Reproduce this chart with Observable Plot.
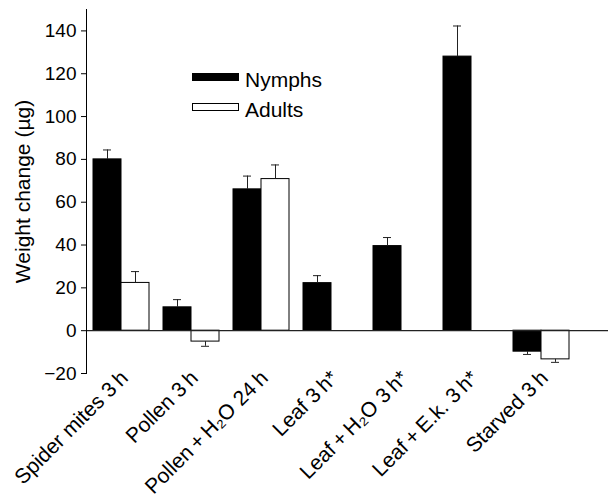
<!DOCTYPE html>
<html><head><meta charset="utf-8">
<script src="https://cdn.jsdelivr.net/npm/d3@7"></script>
<script src="https://cdn.jsdelivr.net/npm/@observablehq/plot@0.6"></script>
<style>
body{margin:0;background:#fff;}
#wrap{position:relative;width:608px;height:498px;font-family:"Liberation Sans",Arial,sans-serif;color:#000;}
.sw{position:absolute;box-sizing:border-box;border:1px solid #000;}
.lt{position:absolute;font-size:21px;line-height:21px;white-space:nowrap;}
</style></head><body><div id="wrap"></div>
<script>
const categories = ["Spider mites 3\u2009h","Pollen 3\u2009h","Pollen\u2009+\u2009H\u2082O 24\u2009h","Leaf 3\u2009h*","Leaf\u2009+\u2009H\u2082O 3\u2009h*","Leaf\u2009+\u2009E.k. 3\u2009h*","Starved 3\u2009h"];
const series = ["Nymphs","Adults"];
const nymphs   = [80, 10.9, 66, 22.2, 39.5, 128, -9.8];
const nymphErr = [4.4, 3.6, 6.2, 3.5, 4.0, 14.3, 1.3];
const adults   = [22.3, -5.1, 70.8, null, null, null, -13.4];
const adultErr = [5.3, 2.2, 6.6, null, null, null, 1.4];
const yTicks = [-20, 0, 20, 40, 60, 80, 100, 120, 140];
const yLabel = "Weight change (\u00b5g)";

function build(vals, errs, s) {
  const out = [];
  categories.forEach((c, i) => {
    const v = vals[i];
    if (v == null) return;
    out.push({cat: c, series: s, value: v, tip: v + Math.sign(v) * errs[i]});
  });
  return out;
}
const nRows = build(nymphs, nymphErr, series[0]);
const aRows = build(adults, adultErr, series[1]);

const chart = Plot.plot({
  width: 608, height: 498,
  marginLeft: 86, marginRight: 0, marginTop: 9, marginBottom: 125,
  style: {fontFamily: "'Liberation Sans', Arial, sans-serif", fontSize: "19px", color: "#000", background: "#fff", overflow: "visible"},
  x: {domain: categories, range: [93, 569], paddingInner: 0.2, paddingOuter: 0, label: null, axis: null},
  y: {domain: [-20, 150], label: null, axis: null},
  marks: [
    Plot.barY(nRows, {x: "cat", y: "value", fill: "#000", stroke: "#000", strokeWidth: 1, insetRight: 28}),
    Plot.barY(aRows, {x: "cat", y: "value", fill: "#fff", stroke: "#000", strokeWidth: 1, insetLeft: 28}),
    Plot.ruleX(nRows, {x: "cat", y1: "value", y2: "tip", dx: -14, stroke: "#222", strokeWidth: 1}),
    Plot.ruleX(aRows, {x: "cat", y1: "value", y2: "tip", dx: 14, stroke: "#222", strokeWidth: 1}),
    Plot.tickY(nRows, {x: "cat", y: "tip", insetLeft: 10, insetRight: 38, stroke: "#222", strokeWidth: 1}),
    Plot.tickY(aRows, {x: "cat", y: "tip", insetLeft: 38, insetRight: 10, stroke: "#222", strokeWidth: 1}),
    Plot.ruleY([0], {stroke: "#222", strokeWidth: 1.2}),
    Plot.frame({anchor: "left", stroke: "#000", strokeWidth: 1}),
    Plot.axisY({ticks: yTicks, tickSize: 5, tickPadding: 5, fontSize: 19, label: yLabel, labelAnchor: "center", labelArrow: "none", labelOffset: 71}),
    Plot.axisX({tickRotate: -45, tickSize: 0, tickPadding: 1, dx: 3, fontSize: 21, label: null})
  ]
});
const wrap = document.getElementById("wrap");
wrap.appendChild(chart);
chart.querySelectorAll("g[aria-label='y-axis label'] text, g[aria-label='y-axis label']").forEach(n => n.setAttribute("font-size", 21));

function legendItem(name, fill, top, h) {
  const sw = document.createElement("div");
  sw.className = "sw";
  Object.assign(sw.style, {left: "192px", top: top + "px", width: "47px", height: h + "px", background: fill});
  wrap.appendChild(sw);
  const t = document.createElement("div");
  t.className = "lt";
  t.textContent = name;
  Object.assign(t.style, {left: "245px", top: (top - 4) + "px"});
  wrap.appendChild(t);
}
legendItem(series[0], "#000", 73, 8);
legendItem(series[1], "#fff", 103, 8);
</script>
</body></html>
